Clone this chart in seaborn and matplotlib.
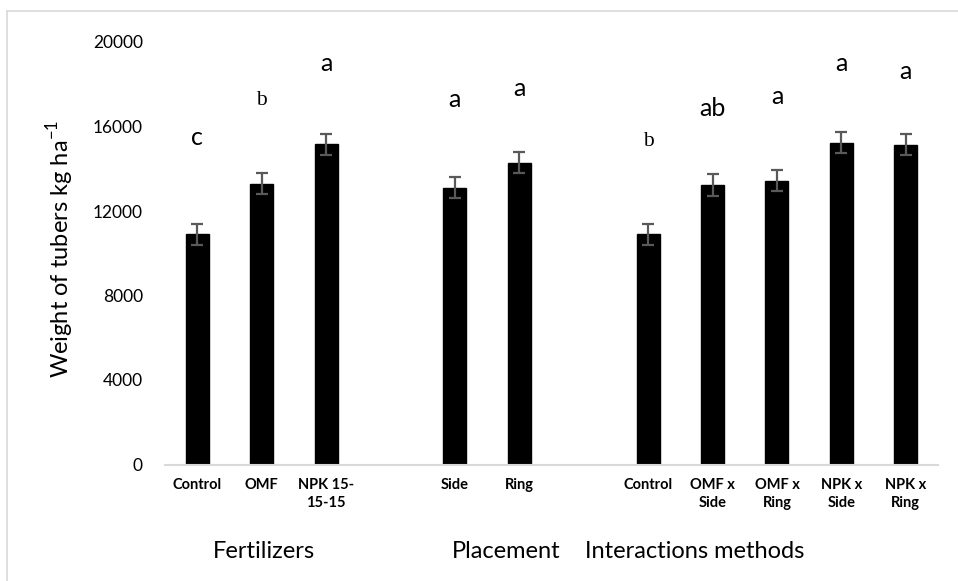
import matplotlib
matplotlib.use("Agg")
import matplotlib.pyplot as plt
import seaborn as sns
import pandas as pd
from matplotlib.lines import Line2D

# ---- data ----
keys = ["Control", "OMF", "NPK", "gap1", "Side", "Ring", "gap2",
        "I_Control", "OMFxSide", "OMFxRing", "NPKxSide", "NPKxRing"]
tick_labels = ["Control", "OMF", "NPK 15-\n15-15", "", "Side", "Ring", "",
               "Control", "OMF x\nSide", "OMF x\nRing", "NPK x\nSide", "NPK x\nRing"]
values = [10900, 13300, 15150, None, 13100, 14280, None,
          10900, 13230, 13440, 15230, 15130]
errors = [500, 500, 500, None, 500, 500, None,
          500, 500, 500, 500, 500]
letters = ["c", "b", "a", "", "a", "a", "", "b", "ab", "a", "a", "a"]
letter_y = [15500, 17250, 19000, None, 17300, 17780, None,
            15300, 16830, 17400, 19000, 18580]
serif_letters = [False, True, False, False, False, False, False,
                 True, False, False, False, False]
groups = ["Fertilizers", "Placement", "Interactions methods"]
group_centers = [1.03, 4.8, 7.72]
yticks = [0, 4000, 8000, 12000, 16000, 20000]

df = pd.DataFrame({"key": keys, "value": values, "err": errors})
df_bars = df.dropna()

plt.rcParams['font.family'] = ['Lato', 'DejaVu Sans']
fig = plt.figure(figsize=(9.58, 5.81), dpi=100)
ax = fig.add_axes([165/958, 1-464.5/581, (938-165)/958, (464.5-42)/581])

sns.barplot(data=df_bars, x="key", y="value", order=keys, color="black",
            width=0.357, saturation=1, errorbar=None, ax=ax, edgecolor="black")

positions = {k: i for i, k in enumerate(keys)}
xs = [positions[k] for k in df_bars["key"]]
ax.errorbar(xs, df_bars["value"], yerr=df_bars["err"], fmt="none",
            ecolor="#595959", elinewidth=1.6, capsize=4.3, capthick=1.6)

for i, (lt, ly, ser) in enumerate(zip(letters, letter_y, serif_letters)):
    if lt and ly is not None:
        if ser:
            ax.text(i, ly, lt, ha="center", va="center", fontsize=15.5,
                    family=["Liberation Serif", "DejaVu Serif"])
        else:
            ax.text(i, ly, lt, ha="center", va="center", fontsize=18)

ax.set_xlim(-0.5, len(keys) - 0.5)
ax.set_ylim(0, 20000)
ax.set_yticks(yticks)
ax.set_yticklabels([str(t) for t in yticks], fontsize=12.5)
ax.set_xticks(range(len(keys)))
ax.set_xticklabels(tick_labels, fontsize=10.5, fontweight="bold", linespacing=1.35)
ax.tick_params(axis="both", length=0)
ax.tick_params(axis="x", pad=10)
ax.tick_params(axis="y", pad=16)
ax.set_xlabel("")
ax.set_ylabel("Weight of tubers kg ha$^{\\mathregular{-1}}$", fontsize=17, va="center")
ax.yaxis.set_label_coords(-0.136, 0.51)
for s in ["top", "right", "left"]:
    ax.spines[s].set_visible(False)
ax.spines["bottom"].set_color("#d9d9d9")
ax.spines["bottom"].set_linewidth(1.5)
ax.set_facecolor("white")

for g, c in zip(groups, group_centers):
    ax.text(c, -0.207, g, transform=ax.get_xaxis_transform(), ha="center",
            va="center", fontsize=17)

# figure border
fig.add_artist(Line2D([7/958, 7/958], [0, 1-11/581], transform=fig.transFigure,
                      color="#d9d9d9", lw=1.2))
fig.add_artist(Line2D([7/958, 1], [1-11/581, 1-11/581], transform=fig.transFigure,
                      color="#d9d9d9", lw=1.2))

fig.savefig("out.png", dpi=100)
